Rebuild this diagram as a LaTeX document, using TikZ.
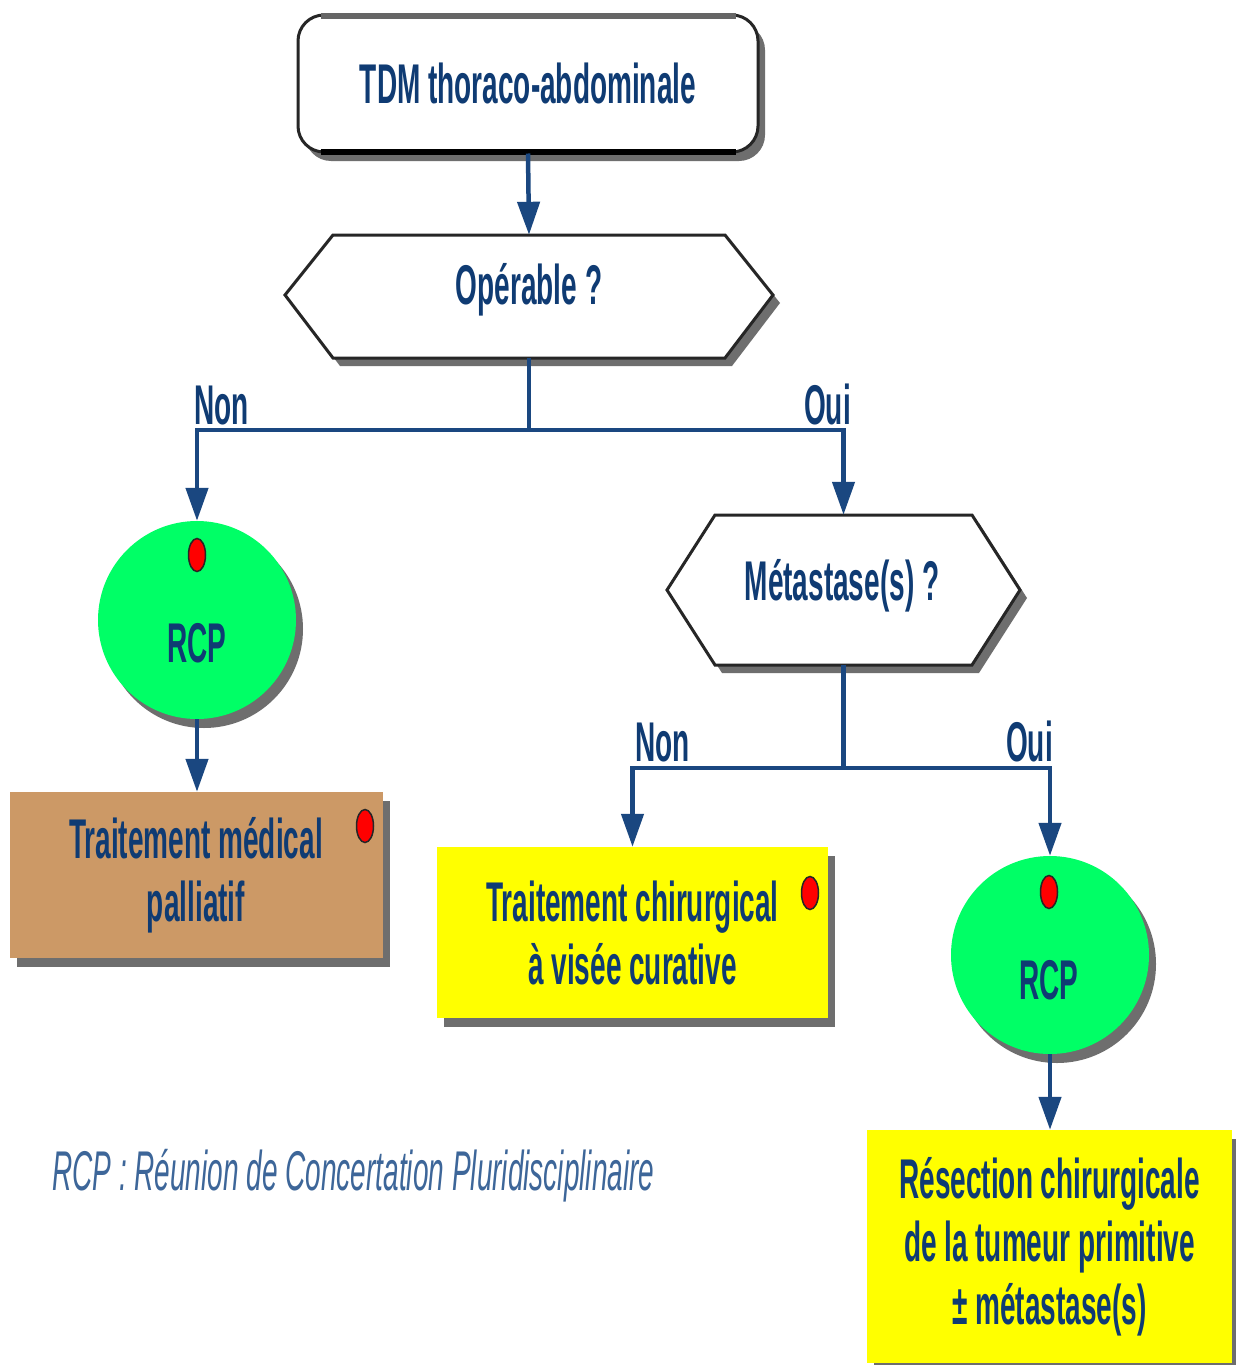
\documentclass[tikz,border=0pt]{standalone}
\usepackage{fontspec}
\setmainfont{Liberation Sans}[FakeStretch=0.5]
\usetikzlibrary{arrows.meta,shapes.geometric,shadows}
\definecolor{txtnavy}{HTML}{0F3B73}
\definecolor{linenavy}{HTML}{1A4780}
\definecolor{rcpgreen}{HTML}{00FF66}
\definecolor{boxbrown}{HTML}{CC9966}
\definecolor{boxyellow}{HTML}{FFFF00}
\definecolor{footblue}{HTML}{3D6699}
\definecolor{shadowgray}{HTML}{6E6E6E}
\tikzset{
  bigtext/.style={font=\fontsize{56}{63}\selectfont\bfseries, text=txtnavy, align=center},
  myshadow/.style={drop shadow={shadow xshift=7pt, shadow yshift=-9pt, fill=shadowgray, opacity=1}},
  boxnode/.style={rectangle, inner sep=0pt, myshadow},
  rcpcircle/.style={circle, fill=rcpgreen, inner sep=0pt, minimum size=198pt, myshadow},
  reddot/.style={ellipse, fill=red, draw=black!85, line width=1.5pt, minimum width=17pt, minimum height=33pt, inner sep=0pt},
  hexframe/.style={draw=black!85, line width=3pt, fill=white, line join=miter},
  hexanchor/.style={rectangle, inner sep=0pt},
  conn/.style={draw=linenavy, line width=4.5pt},
  arr/.style={conn, -{Triangle[width=22pt,length=33pt]}},
  branchlabel/.style={font=\fontsize{56}{63}\selectfont\bfseries, text=txtnavy, inner sep=0pt},
}
\begin{document}
\begin{tikzpicture}[x=1pt,y=-1pt]
\useasboundingbox[fill=white] (0,0) rectangle (1235,1365);

% TDM box
\node[boxnode, rounded corners=26pt, draw=black!85, line width=3pt, fill=white,
      minimum width=460pt, minimum height=137pt, bigtext] (tdm) at (528,83.5) {TDM thoraco-abdominale};
\draw[black!60, line width=6pt] ([xshift=24pt,yshift=-2pt]tdm.north west) -- ([xshift=-24pt,yshift=-2pt]tdm.north east);
\draw[black, line width=6pt] ([xshift=24pt,yshift=2pt]tdm.south west) -- ([xshift=-24pt,yshift=2pt]tdm.south east);

% Operable hexagon
\fill[shadowgray] (292,303) -- (340,243) -- (732,243) -- (780,303) -- (732,366) -- (340,366) -- cycle;
\draw[hexframe] (285,295) -- (333,235) -- (725,235) -- (773,295) -- (725,358) -- (333,358) -- cycle;
\node[hexanchor, minimum width=392pt, minimum height=123pt] (op) at (529,296.5) {};
\node[bigtext] (optxt) at (529,290) {Opérable ?};

% Metastase hexagon
\fill[shadowgray] (674,598) -- (722,523) -- (979,523) -- (1027,598) -- (979,673) -- (722,673) -- cycle;
\draw[hexframe] (667,590) -- (715,515) -- (972,515) -- (1020,590) -- (972,665) -- (715,665) -- cycle;
\node[hexanchor, minimum width=257pt, minimum height=150pt] (met) at (843.5,590) {};
\node[bigtext] (mettxt) at (842,586) {Métastase(s) ?};

% RCP circles
\node[rcpcircle] (rcp1) at (197,620) {};
\node[bigtext] (rcp1txt) at (197,643) {RCP};
\node[reddot] (dot1) at (197,555) {};

\node[rcpcircle] (rcp2) at (1050,955) {};
\node[bigtext] (rcp2txt) at (1049,980) {RCP};
\node[reddot] (dot4) at (1049,892) {};

% Boxes
\node[boxnode, fill=boxbrown, minimum width=373pt, minimum height=166pt, bigtext] (med) at (196,875) {Traitement médical\\palliatif};
\node[reddot] (dot2) at (365,826) {};

\node[boxnode, fill=boxyellow, minimum width=391pt, minimum height=171pt, bigtext] (cur) at (632.5,932.5) {Traitement chirurgical\\à visée curative};
\node[reddot] (dot3) at (810,893) {};

\node[boxnode, fill=boxyellow, minimum width=365pt, minimum height=233pt, bigtext] (res) at (1049.5,1246.5) {Résection chirurgicale\\de la tumeur primitive\\± métastase(s)};

% connectors
\draw[arr] (tdm.south) -- (op.north);
\coordinate (b1) at (529,430);
\draw[conn] (op.south) -- (b1);
\draw[arr] (b1) -| (rcp1.north);
\draw[arr] (b1) -| (met.north);
\coordinate (b2) at (843.5,768);
\draw[conn] (met.south) -- (b2);
\draw[arr] (b2) -| (cur.north);
\draw[arr] (b2) -| (rcp2.north);
\draw[arr] (rcp1.south) -- (rcp1.south |- med.north);
\draw[arr] (rcp2.south) -- (rcp2.south |- res.north);

% branch labels
\node[branchlabel, anchor=base west] (non1) at (194,424) {Non};
\node[branchlabel, anchor=base east] (oui1) at (851,424) {Oui};
\node[branchlabel, anchor=base west] (non2) at (635,761) {Non};
\node[branchlabel, anchor=base east] (oui2) at (1053,761) {Oui};

% footer
\node[anchor=base west, inner sep=0pt, text=footblue, font=\fontsize{56}{63}\selectfont\itshape] (foot) at (52,1190) {RCP : Réunion de Concertation Pluridisciplinaire};
\end{tikzpicture}
\end{document}
